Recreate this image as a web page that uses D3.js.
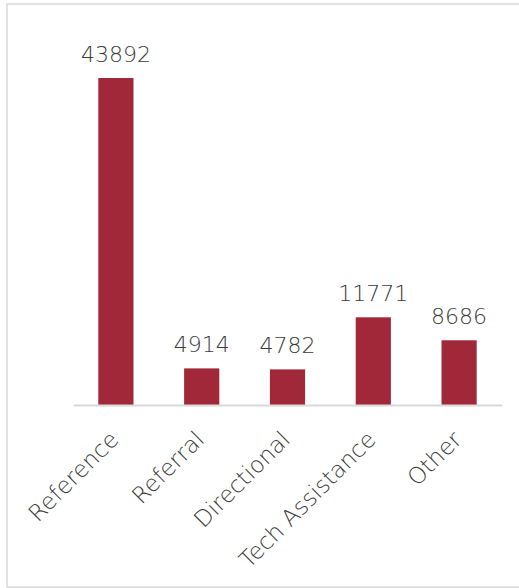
<!DOCTYPE html>
<html>
<head>
<meta charset="utf-8">
<script src="https://cdn.jsdelivr.net/npm/d3@7"></script>
<style>
  html, body { margin: 0; padding: 0; background: #ffffff; }
  svg { display: block; }
</style>
</head>
<body>
<script>
const categories = ["Reference", "Referral", "Directional", "Tech Assistance", "Other"];
const values = [43892, 4914, 4782, 11771, 8686];

const W = 519, H = 588;
const svg = d3.select("body").append("svg").attr("width", W).attr("height", H);

// chart frame
svg.append("rect")
  .attr("x", 7).attr("y", 4)
  .attr("width", 530).attr("height", 583)
  .attr("fill", "none").attr("stroke", "#d9d9d9").attr("stroke-width", 1.5);

const x = d3.scaleBand().domain(categories).range([73, 502]).paddingInner(0.59).paddingOuter(0.295);
const y = d3.scaleLinear().domain([0, 50000]).range([405, 32.5]);

const font = "'DejaVu Sans', sans-serif";
const textColor = "#3a3a3a";

svg.selectAll("rect.bar").data(values).join("rect")
  .attr("class", "bar")
  .attr("x", (d, i) => x(categories[i]))
  .attr("width", x.bandwidth())
  .attr("y", d => y(d))
  .attr("height", d => y(0) - y(d))
  .attr("fill", "#a12838");

// axis baseline
const axis = d3.axisBottom(x).tickSize(0).tickFormat("");
const gAxis = svg.append("g").attr("transform", `translate(0,${y(0)})`).call(axis);
gAxis.select(".domain").attr("stroke", "#d9d9d9").attr("stroke-width", 2);

// value labels
svg.selectAll("text.val").data(values).join("text")
  .attr("class", "val")
  .attr("x", (d, i) => x(categories[i]) + x.bandwidth() / 2)
  .attr("y", d => y(d) - 16)
  .attr("text-anchor", "middle")
  .attr("font-family", font).attr("font-size", 22).attr("font-weight", 300)
  .attr("fill", textColor)
  .text(d => d);

// category labels
svg.selectAll("text.cat").data(categories).join("text")
  .attr("class", "cat")
  .attr("transform", d => `translate(${x(d) + x.bandwidth() / 2 + 4},${y(0) + 36}) rotate(-45)`)
  .attr("text-anchor", "end")
  .attr("font-family", font).attr("font-size", 23).attr("font-weight", 300)
  .attr("fill", textColor)
  .text(d => d);
</script>
</body>
</html>
